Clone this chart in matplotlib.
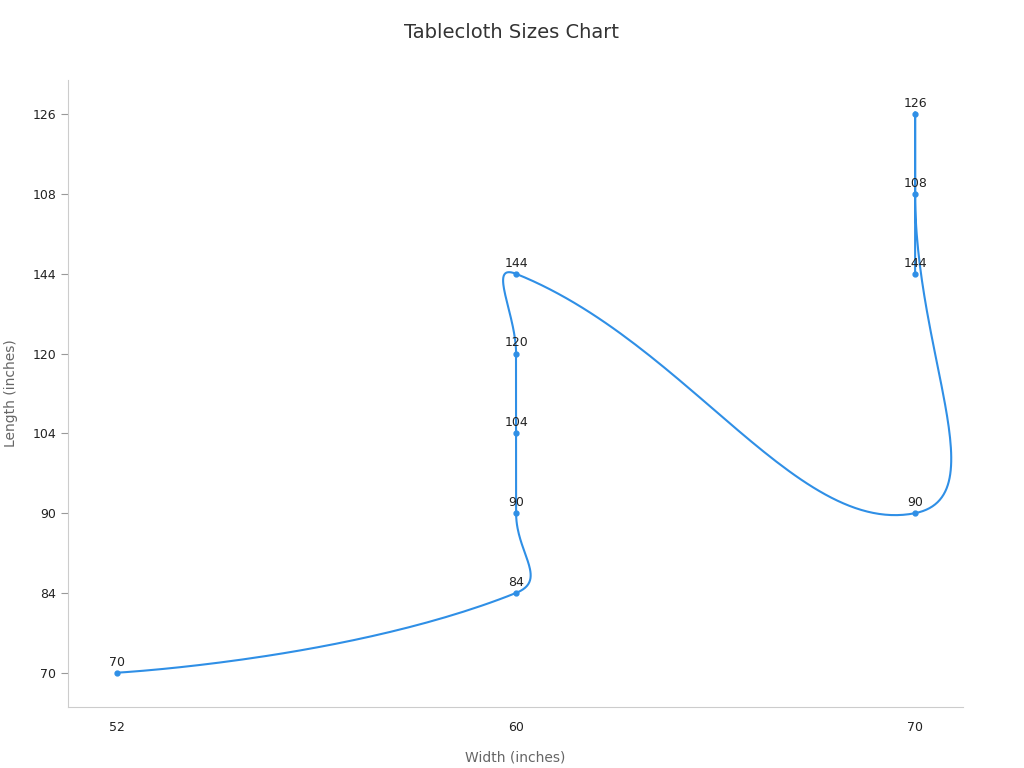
import matplotlib.pyplot as plt
import numpy as np

x_cats = ['52', '60', '70']
y_cats = ['70', '84', '90', '104', '120', '144', '108', '126']
pt_x = ['52', '60', '60', '60', '60', '60', '70', '70', '70', '70']
pt_y = ['70', '84', '90', '104', '120', '144', '90', '108', '126', '144']
line_color = '#2f8fe6'


def smooth(xs, ys, sx=399.0, sy=80.0, k=0.5, n=60):
    # echarts-like smoothing done in pixel space
    p = np.column_stack([np.array(xs) * sx, np.array(ys) * sy]).astype(float)
    m = len(p)
    cin, cout = p.copy(), p.copy()
    for i in range(1, m - 1):
        v = p[i + 1] - p[i - 1]
        d0 = np.linalg.norm(p[i] - p[i - 1])
        d1 = np.linalg.norm(p[i + 1] - p[i])
        if d0 + d1 == 0:
            continue
        cin[i] = p[i] - v * k * d0 / (d0 + d1)
        cout[i] = p[i] + v * k * d1 / (d0 + d1)
    px, py = [], []
    t = np.linspace(0, 1, n)[:, None]
    for i in range(m - 1):
        b = ((1 - t) ** 3) * p[i] + 3 * ((1 - t) ** 2) * t * cout[i] + \
            3 * (1 - t) * t ** 2 * cin[i + 1] + t ** 3 * p[i + 1]
        px.extend(b[:, 0] / sx)
        py.extend(b[:, 1] / sy)
    return px, py


xi = [x_cats.index(v) for v in pt_x]
yi = [y_cats.index(v) for v in pt_y]

fig = plt.figure(figsize=(10.24, 7.68), dpi=100)
ax = fig.add_axes([68 / 1024, 61 / 768, 895 / 1024, 627 / 768])

sx, sy = smooth(xi, yi)
ax.plot(sx, sy, color=line_color, lw=1.5)
ax.plot(xi, yi, 'o', color=line_color, ms=3.5)
for x, y, lab in zip(xi, yi, pt_y):
    ax.annotate(lab, (x, y), xytext=(0, 3), textcoords='offset points',
                ha='center', va='bottom', fontsize=9, color='#222222')

ax.set_xticks(range(len(x_cats)))
ax.set_xticklabels(x_cats)
ax.set_yticks(range(len(y_cats)))
ax.set_yticklabels(y_cats)
ax.set_xlim(-0.123, 2.12)
ax.set_ylim(-0.43, 7.43)
for s in ['top', 'right']:
    ax.spines[s].set_visible(False)
for s in ['left', 'bottom']:
    ax.spines[s].set_color('#cccccc')
ax.tick_params(axis='x', length=0, labelsize=9, colors='#222222', pad=10)
ax.tick_params(axis='y', length=5, color='#999999', labelsize=9, colors='#222222')
ax.set_xlabel('Width (inches)', color='#666666', fontsize=10, labelpad=12)
ax.set_ylabel('Length (inches)', color='#666666', fontsize=10, labelpad=10)
fig.suptitle('Tablecloth Sizes Chart', y=0.97, fontsize=14, color='#333333')

fig.savefig('out.png')
